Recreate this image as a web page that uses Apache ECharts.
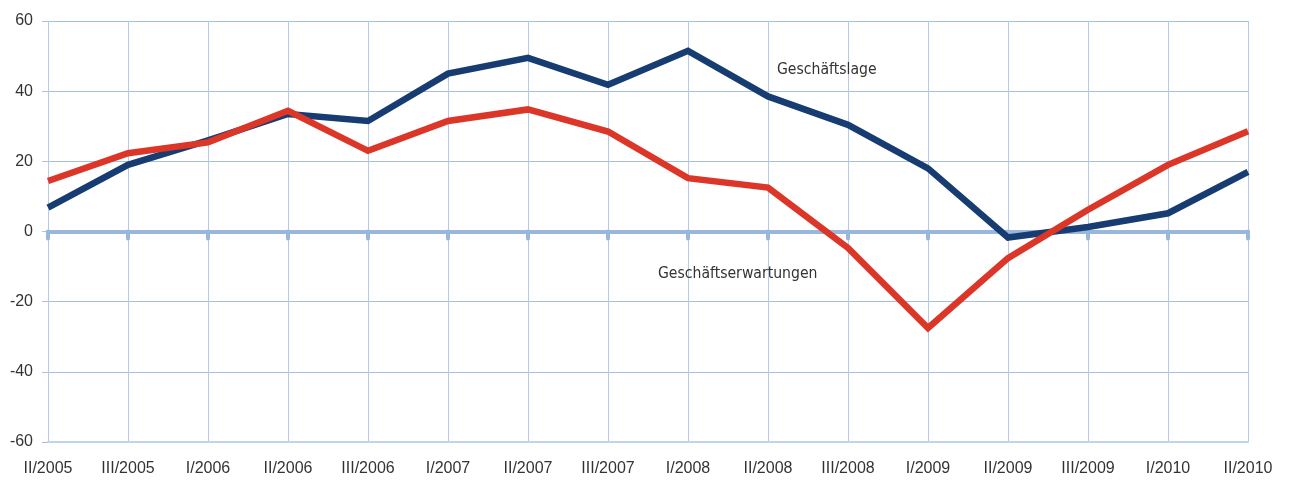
<!DOCTYPE html>
<html>
<head>
<meta charset="utf-8">
<script src="https://cdn.jsdelivr.net/npm/echarts@6/dist/echarts.min.js"></script>
<style>
  html, body { margin: 0; padding: 0; background: #fff; }
  #chart { width: 1290px; height: 482px; }
</style>
</head>
<body>
<div id="chart"></div>
<script>
const quarters = ['II/2005', 'III/2005', 'I/2006', 'II/2006', 'III/2006', 'I/2007', 'II/2007', 'III/2007',
  'I/2008', 'II/2008', 'III/2008', 'I/2009', 'II/2009', 'III/2009', 'I/2010', 'II/2010']
const lage = [6.8, 19, 26, 33.5, 31.5, 45, 49.5, 41.8, 51.5, 38.5, 30.4, 18, -1.7, 1.3, 5.2, 17]
const erwartungen = [14.4, 22.3, 25.4, 34.4, 23, 31.5, 34.8, 28.5, 15.2, 12.5, -4.7, -27.5, -7.6, 6.2, 19, 28.6]
const yTicks = [-60, -40, -20, 0, 20, 40, 60]

const chart = echarts.init(document.getElementById('chart'))

const textColor = '#333'
const font = 'Liberation Sans, Arial, sans-serif'
const noteFont = 'DejaVu Sans Condensed, DejaVu Sans, sans-serif'

chart.setOption({
  animation: false,
  grid: { left: 48, right: 42, top: 21, bottom: 40 },
  xAxis: [
    {
      type: 'category',
      data: quarters,
      boundaryGap: false,
      position: 'bottom',
      axisLine: { onZero: false, lineStyle: { color: '#c0d4ea', width: 2 } },
      axisTick: { show: false },
      axisLabel: { color: textColor, fontSize: 16, fontFamily: font, margin: 19 },
      splitLine: { show: true, lineStyle: { color: '#b3cbe6', width: 1 } }
    },
    {
      // Nulllinie mit kleinen Markierungen
      type: 'category',
      data: quarters,
      boundaryGap: false,
      position: 'top',
      axisLine: { onZero: true, lineStyle: { color: '#98b7da', width: 4 } },
      axisTick: { show: true, inside: true, length: 7, lineStyle: { color: '#98b7da', width: 4, cap: 'round' } },
      axisLabel: { show: false },
      splitLine: { show: false }
    }
  ],
  yAxis: {
    type: 'value',
    min: yTicks[0],
    max: yTicks[yTicks.length - 1],
    interval: 20,
    axisLine: { show: false },
    axisTick: { show: true, length: 6, lineStyle: { color: '#a9c3e0' } },
    axisLabel: { color: textColor, fontSize: 16, fontFamily: font, margin: 15 },
    splitLine: { lineStyle: { color: '#a4bfdf', width: 1 } }
  },
  series: [
    {
      name: 'Geschäftslage',
      type: 'line',
      data: lage,
      symbol: 'none',
      z: 3,
      lineStyle: { color: '#173c71', width: 6.5, join: 'miter' }
    },
    {
      name: 'Geschäftserwartungen',
      type: 'line',
      data: erwartungen,
      symbol: 'none',
      z: 4,
      lineStyle: { color: '#dc3628', width: 6.5, join: 'miter' }
    }
  ],
  graphic: [
    {
      type: 'text', left: 777, top: 62, z: 100,
      style: { text: 'Geschäftslage', fill: '#333', fontSize: 15.6, fontFamily: noteFont }
    },
    {
      type: 'text', left: 658, top: 266, z: 100,
      style: { text: 'Geschäftserwartungen', fill: '#333', fontSize: 15.6, fontFamily: noteFont }
    }
  ]
})
</script>
</body>
</html>
